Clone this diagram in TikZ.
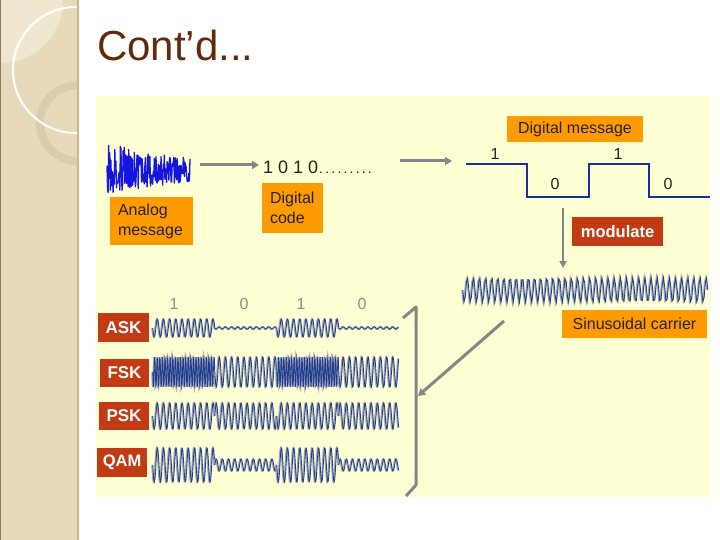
\documentclass[tikz,border=0pt]{standalone}
\usepackage{fontspec}
\setmainfont{Liberation Sans}
\usetikzlibrary{arrows.meta}
\definecolor{panel}{HTML}{FFFFD4}
\definecolor{orangebox}{HTML}{FF9A00}
\definecolor{redbox}{HTML}{C23B14}
\definecolor{titlebrown}{HTML}{5E2C0C}
\definecolor{arrowgray}{HTML}{858585}
\definecolor{sqblue}{HTML}{1A2F9E}
\definecolor{wblue}{HTML}{1F3C95}
\definecolor{wgray}{HTML}{A3A7AE}
\definecolor{anblue}{HTML}{1515E0}
\definecolor{sidebg}{HTML}{E7DABB}
\definecolor{sidelight}{HTML}{EFE6CF}
\definecolor{sideedge}{HTML}{C9B68E}
\definecolor{darkedge}{HTML}{8E7B58}
\definecolor{ringcol}{HTML}{D9CDAE}
\definecolor{bitgray}{HTML}{8C8C8C}
\definecolor{txtdark}{HTML}{222222}
\newcommand{\wseg}[6]{%
  \draw[wgray,line width=1.5pt] plot[domain=#1:#2,samples=200] (\x,{#3+#4*sin((\x-#1)/#5*360+#6)});
  \draw[wblue,line width=0.85pt] plot[domain=#1:#2,samples=200] ({\x+0.8},{#3+#4*sin((\x-#1)/#5*360+#6)});
}
\newcommand{\dt}{.\kern2.2pt}
\begin{document}
\begin{tikzpicture}[x=1pt,y=-1pt,
  obox/.style={fill=orangebox,text=txtdark,inner sep=0pt,font=\fontsize{16}{20}\selectfont},
  rbox/.style={fill=redbox,text=white,inner sep=0pt,font=\fontsize{17}{20}\selectfont\bfseries},
  garrow/.style={draw=arrowgray,line width=3pt,-{Triangle[length=7pt,width=8pt]}},
  bitlbl/.style={text=bitgray,font=\fontsize{16}{18}\selectfont,inner sep=0pt},
  sqlbl/.style={text=txtdark,font=\fontsize{16}{18}\selectfont,inner sep=0pt}]
\useasboundingbox (0,0) rectangle (720,540);
\fill[white] (0,0) rectangle (720,540);
% sidebar
\begin{scope}
  \clip (0,0) rectangle (78,540);
  \fill[sidebg] (0,0) rectangle (78,540);
  \fill[sidelight] (0,0) circle (63pt);
  \draw[ringcol,line width=8pt] (78,123) circle (38pt);
  \draw[white,line width=2pt] (76,70) circle (63pt);
\end{scope}
\draw[sideedge,line width=1.5pt] (78,0) -- (78,540);
\draw[darkedge,line width=1pt] (0.5,0) -- (0.5,540);
% title
\node[anchor=base west,inner sep=0pt,text=titlebrown,font=\fontsize{42}{46}\selectfont] (title) at (97,61) {Cont’d...};
% panel
\fill[panel] (96,96) rectangle (710,497);
% analog waveform
\pgfmathsetseed{12}
\draw[anblue,line width=1.3pt,line join=round] plot[domain=107:190,samples=150] (\x,{169+(25-0.15*(\x-107))*(2*rnd-1)});
\node[obox,minimum width=83pt,minimum height=48pt,text width=67pt,align=left,inner xsep=8pt] (analog) at (151.5,221) {Analog\\message};
\node[anchor=base west,inner sep=0pt,text=txtdark,font=\fontsize{18}{20}\selectfont] (bits) at (263,174) {1 0 1 0{\fontsize{14}{16}\selectfont\kern1pt\dt\dt\dt\dt\dt\dt\dt\dt\dt}};
\node[obox,minimum width=61pt,minimum height=50pt,text width=45pt,align=left,inner xsep=8pt] (code) at (292.5,208) {Digital\\code};
\coordinate (a1s) at (200,165);
\coordinate (a1e) at (259,165);
\draw[garrow] (a1s) -- (a1e);
\coordinate (a2s) at (400,161);
\coordinate (a2e) at (452,161);
\draw[garrow] (a2s) -- (a2e);
% digital message
\node[obox,minimum width=136pt,minimum height=26pt] (dmsg) at (575,129) {Digital message};
\draw[sqblue,line width=2pt] (466,164) -- (527,164) -- (527,197) -- (589,197) -- (589,164) -- (649,164) -- (649,197) -- (710,197);
\node[sqlbl] (s1) at (495,154) {1};
\node[sqlbl] (s2) at (555,184) {0};
\node[sqlbl] (s3) at (618,154) {1};
\node[sqlbl] (s4) at (668,184) {0};
% modulate
\coordinate (m1) at (563,208);
\coordinate (m2) at (563,268);
\draw[draw=arrowgray,line width=2.5pt,-{Triangle[length=7pt,width=7pt]}] (m1) -- (m2);
\node[rbox,font=\fontsize{16.5}{20}\selectfont\bfseries,minimum width=91pt,minimum height=29pt] (mod) at (617.5,231.5) {modulate};
% carrier
\wseg{462}{707}{290}{12.5}{6.125}{0}
\node[obox,minimum width=145pt,minimum height=28pt] (carrier) at (634.5,324) {Sinusoidal carrier};
% bracket and diagonal arrow
\coordinate (b1) at (403,318);
\coordinate (b2) at (416,307);
\coordinate (b3) at (416,485);
\coordinate (b4) at (406,496);
\draw[arrowgray,line width=3pt,line join=round] (b1) -- (b2) -- (b3) -- (b4);
\coordinate (d1) at (504,321);
\coordinate (d2) at (418,396);
\draw[garrow] (d1) -- (d2);
% bit labels
\node[bitlbl] (l1) at (174,304) {1};
\node[bitlbl] (l2) at (244,304) {0};
\node[bitlbl] (l3) at (301,304) {1};
\node[bitlbl] (l4) at (362,304) {0};
% modulation labels
\node[rbox,minimum width=51pt,minimum height=29pt] (ask) at (123.5,327.5) {ASK};
\node[rbox,minimum width=49pt,minimum height=28pt] (fsk) at (124.5,373) {FSK};
\node[rbox,minimum width=50pt,minimum height=28pt] (psk) at (124,416) {PSK};
\node[rbox,font=\fontsize{16.5}{20}\selectfont\bfseries,minimum width=50pt,minimum height=29pt] (qam) at (122,462.5) {QAM};
% ASK
\wseg{152}{214}{328}{9}{6.2}{0}
\wseg{214}{276}{328}{1.2}{6.2}{0}
\wseg{276}{338}{328}{9}{6.2}{0}
\wseg{338}{398}{328}{1.2}{6.2}{0}
% FSK
\wseg{152}{214}{372}{15}{2.583}{0}
\wseg{214}{276}{372}{15}{6.2}{0}
\wseg{276}{338}{372}{15}{2.583}{0}
\wseg{338}{398}{372}{15}{6.2}{0}
% PSK
\wseg{152}{214}{416}{13}{6.2}{0}
\wseg{214}{276}{416}{13}{6.2}{180}
\wseg{276}{338}{416}{13}{6.2}{0}
\wseg{338}{398}{416}{13}{6.2}{180}
% QAM
\wseg{152}{214}{465}{17}{6.2}{0}
\wseg{214}{276}{465}{6}{6.2}{180}
\wseg{276}{338}{465}{17}{6.2}{0}
\wseg{338}{398}{465}{6}{6.2}{180}
\end{tikzpicture}
\end{document}
